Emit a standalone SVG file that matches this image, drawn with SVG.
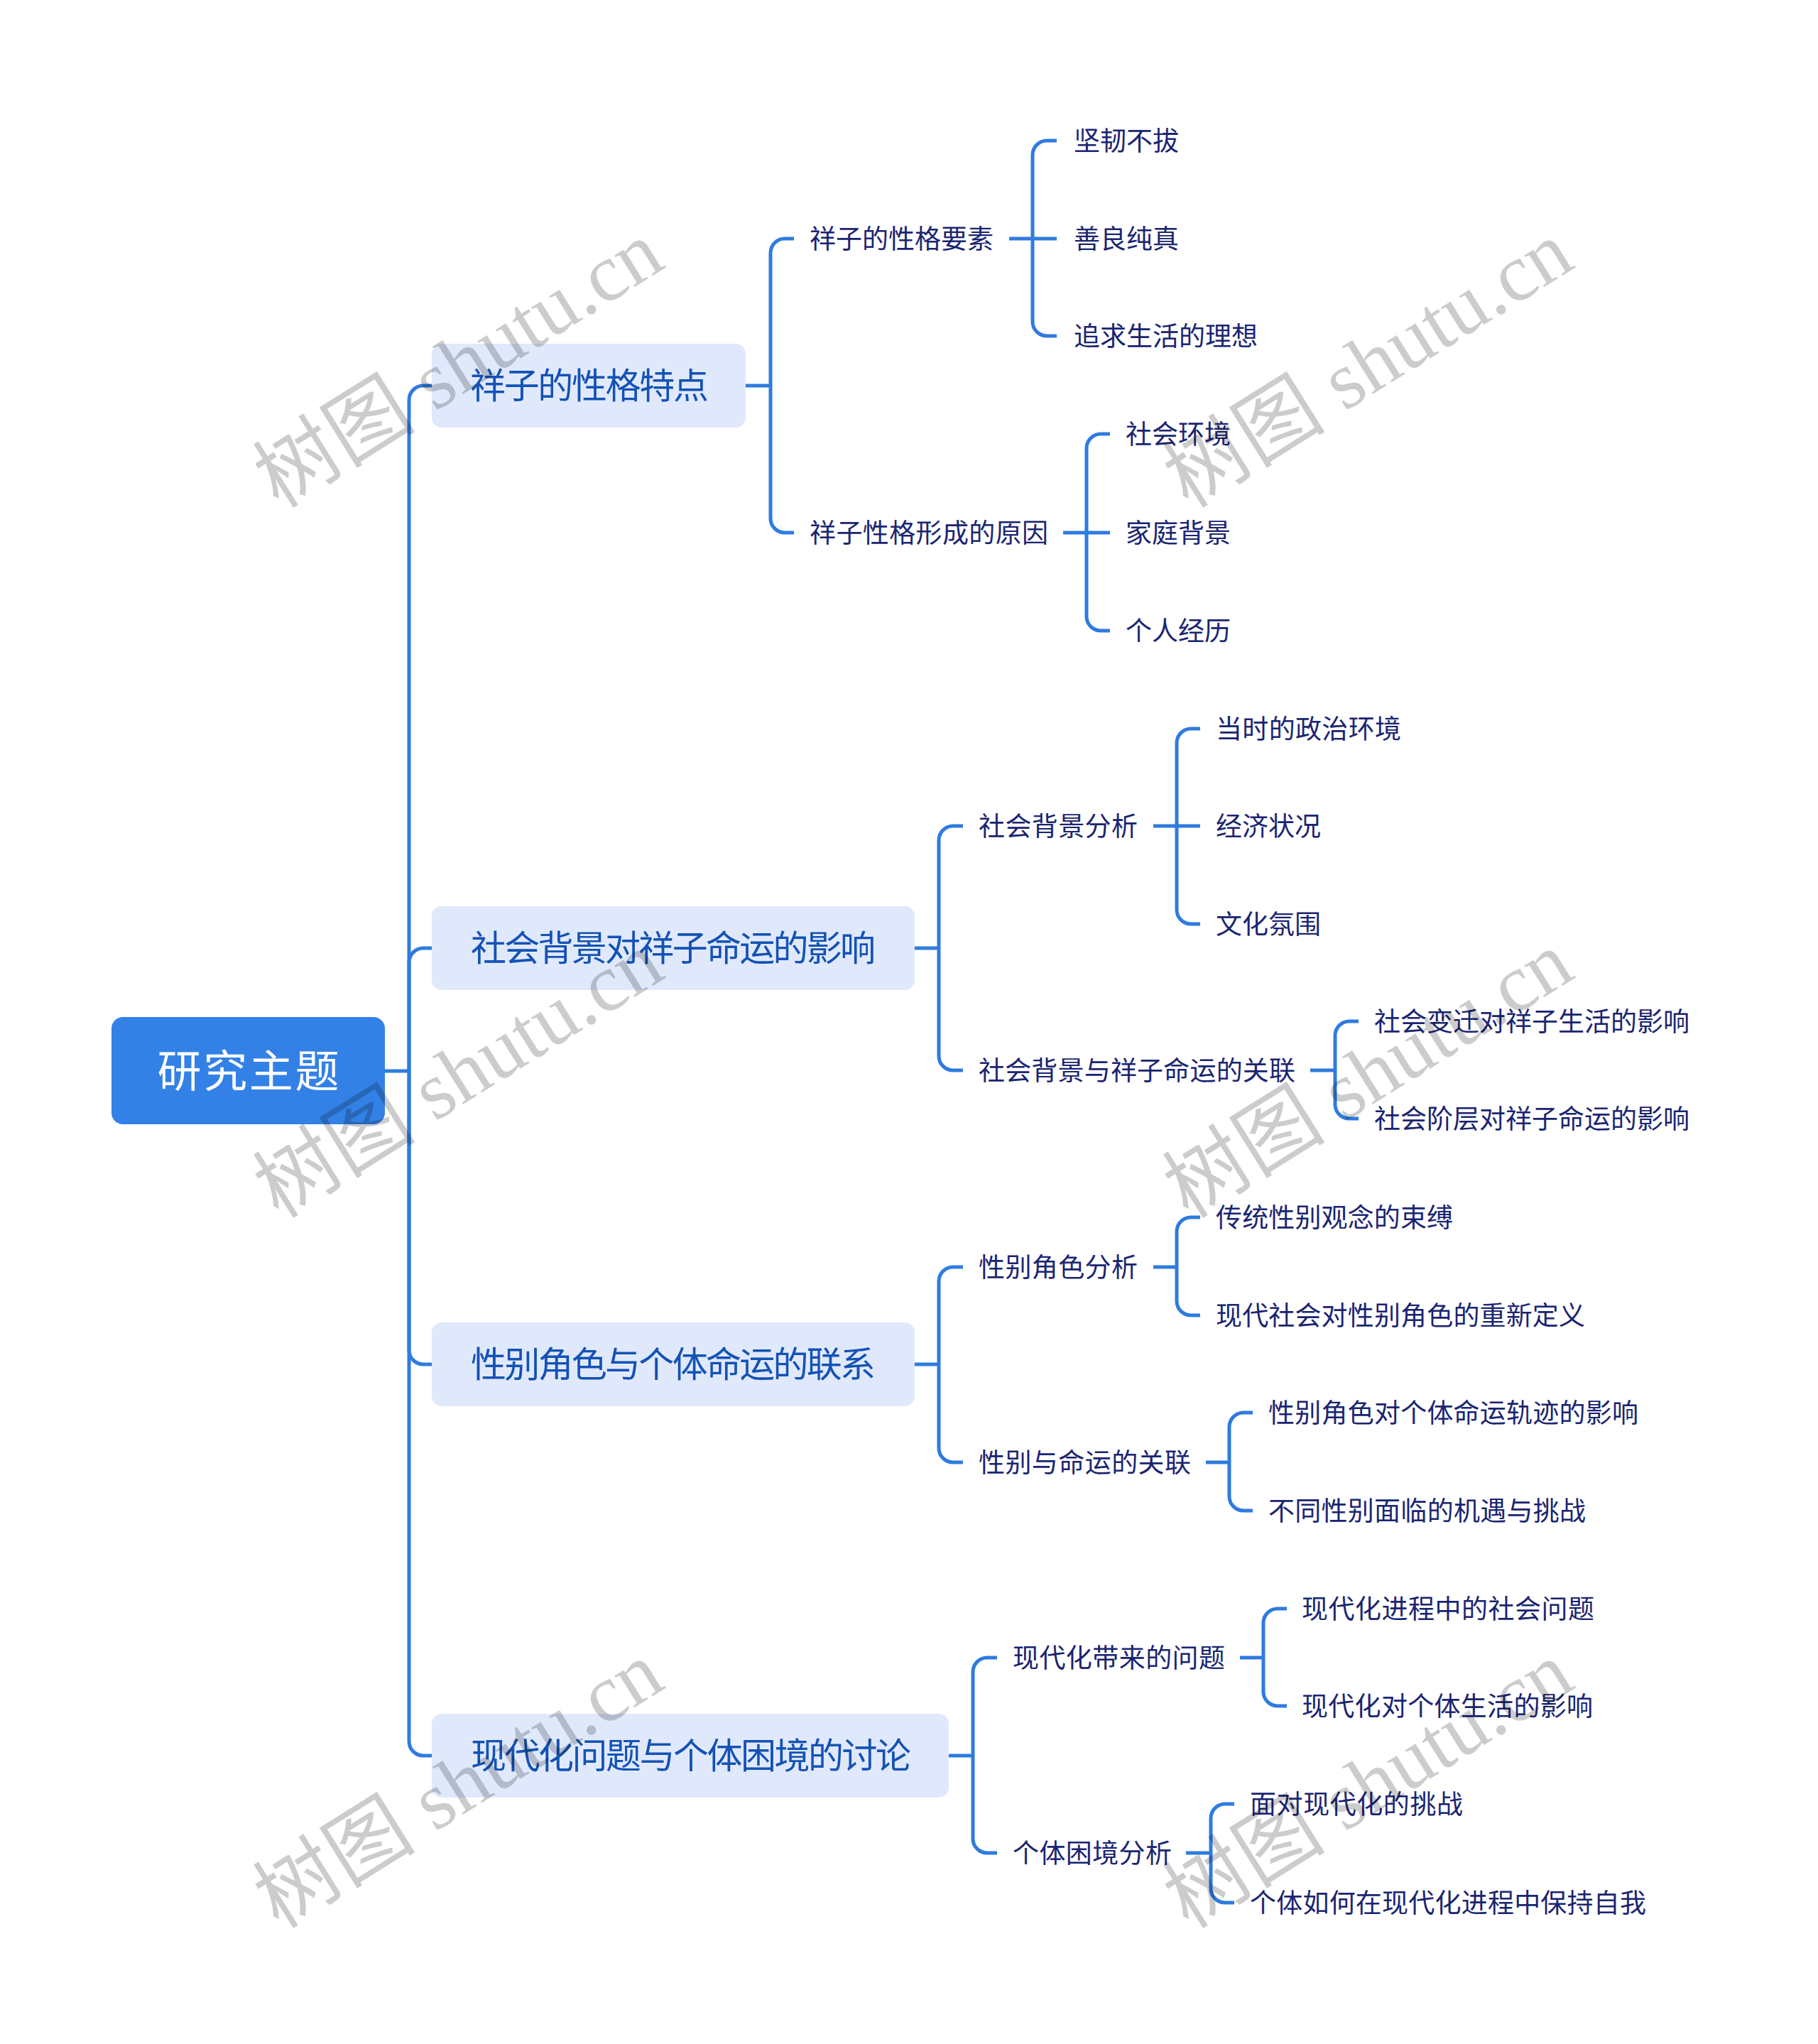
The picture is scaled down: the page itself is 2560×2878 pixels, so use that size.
<svg xmlns="http://www.w3.org/2000/svg" width="2560" height="2878" viewBox="0 0 2560 2878">
<style>
text{font-family:"Noto Sans CJK SC","Noto Sans",sans-serif}
.root rect{fill:#3381E6}
.root text{fill:#ffffff;font-size:62px}
.l1 rect{fill:#E0E9FC}
.l1 text{fill:#1452B5;font-size:50px}
.l2 text,.l3 text{fill:#1A2571;font-size:37px}
.conn path{fill:none;stroke:#2F7BDF;stroke-width:5}
.wm{font-family:"Liberation Serif","Noto Sans CJK SC",serif;font-size:115px;fill:#000;fill-opacity:0.2}
</style>
<rect width="2560" height="2878" fill="#ffffff"/>
<g class="conn" id="connectors">
<path d="M542 1508 H576"/>
<path d="M576 1508 V563 A20 20 0 0 1 596 543 H608"/>
<path d="M576 1508 V1355 A20 20 0 0 1 596 1335 H608"/>
<path d="M576 1508 V1901 A20 20 0 0 0 596 1921 H608"/>
<path d="M576 1508 V2452 A20 20 0 0 0 596 2472 H608"/>
<path d="M1050 543 H1085"/>
<path d="M1085 543 V356 A20 20 0 0 1 1105 336 H1118"/>
<path d="M1085 543 V730 A20 20 0 0 0 1105 750 H1118"/>
<path d="M1421 336 H1454"/>
<path d="M1454 336 V218 A20 20 0 0 1 1474 198 H1488"/>
<path d="M1454 336 H1488"/>
<path d="M1454 336 V453 A20 20 0 0 0 1474 473 H1488"/>
<path d="M1497 750 H1530"/>
<path d="M1530 750 V631 A20 20 0 0 1 1550 611 H1563"/>
<path d="M1530 750 H1563"/>
<path d="M1530 750 V868 A20 20 0 0 0 1550 888 H1563"/>
<path d="M1288 1335 H1322"/>
<path d="M1322 1335 V1183 A20 20 0 0 1 1342 1163 H1356"/>
<path d="M1322 1335 V1487 A20 20 0 0 0 1342 1507 H1356"/>
<path d="M1624 1163 H1657"/>
<path d="M1657 1163 V1046 A20 20 0 0 1 1677 1026 H1690"/>
<path d="M1657 1163 H1690"/>
<path d="M1657 1163 V1281 A20 20 0 0 0 1677 1301 H1690"/>
<path d="M1845 1507 H1880"/>
<path d="M1880 1507 V1458 A20 20 0 0 1 1900 1438 H1913"/>
<path d="M1880 1507 V1555 A20 20 0 0 0 1900 1575 H1913"/>
<path d="M1288 1921 H1322"/>
<path d="M1322 1921 V1804 A20 20 0 0 1 1342 1784 H1356"/>
<path d="M1322 1921 V2039 A20 20 0 0 0 1342 2059 H1356"/>
<path d="M1624 1784 H1657"/>
<path d="M1657 1784 V1734 A20 20 0 0 1 1677 1714 H1690"/>
<path d="M1657 1784 V1832 A20 20 0 0 0 1677 1852 H1690"/>
<path d="M1698 2059 H1731"/>
<path d="M1731 2059 V2009 A20 20 0 0 1 1751 1989 H1764"/>
<path d="M1731 2059 V2107 A20 20 0 0 0 1751 2127 H1764"/>
<path d="M1336 2472 H1370"/>
<path d="M1370 2472 V2354 A20 20 0 0 1 1390 2334 H1404"/>
<path d="M1370 2472 V2589 A20 20 0 0 0 1390 2609 H1404"/>
<path d="M1746 2334 H1779"/>
<path d="M1779 2334 V2285 A20 20 0 0 1 1799 2265 H1812"/>
<path d="M1779 2334 V2382 A20 20 0 0 0 1799 2402 H1812"/>
<path d="M1670 2609 H1705"/>
<path d="M1705 2609 V2560 A20 20 0 0 1 1725 2540 H1738"/>
<path d="M1705 2609 V2659 A20 20 0 0 0 1725 2679 H1738"/>
</g>
<g class="root" id="node-root"><rect x="157" y="1432" width="385" height="151" rx="16"/><text x="349.5" y="1531" text-anchor="middle" textLength="256">研究主题</text></g>
<g class="l1" id="node-1"><rect x="608" y="484" width="442" height="118" rx="14"/><text x="662" y="561" textLength="336">祥子的性格特点</text></g>
<g class="l1" id="node-2"><rect x="608" y="1276" width="680" height="118" rx="14"/><text x="663" y="1353" textLength="570">社会背景对祥子命运的影响</text></g>
<g class="l1" id="node-3"><rect x="608" y="1862" width="680" height="118" rx="14"/><text x="663" y="1939" textLength="570">性别角色与个体命运的联系</text></g>
<g class="l1" id="node-4"><rect x="608" y="2413" width="728" height="118" rx="14"/><text x="663" y="2490" textLength="620">现代化问题与个体困境的讨论</text></g>
<g class="l2" id="node-1-1"><text x="1140" y="350" textLength="259">祥子的性格要素</text></g>
<g class="l2" id="node-1-2"><text x="1140" y="764" textLength="336">祥子性格形成的原因</text></g>
<g class="l2" id="node-2-1"><text x="1378" y="1177" textLength="224">社会背景分析</text></g>
<g class="l2" id="node-2-2"><text x="1378" y="1521" textLength="446">社会背景与祥子命运的关联</text></g>
<g class="l2" id="node-3-1"><text x="1378" y="1798" textLength="224">性别角色分析</text></g>
<g class="l2" id="node-3-2"><text x="1378" y="2073" textLength="299">性别与命运的关联</text></g>
<g class="l2" id="node-4-1"><text x="1426" y="2348" textLength="299">现代化带来的问题</text></g>
<g class="l2" id="node-4-2"><text x="1426" y="2623" textLength="224">个体困境分析</text></g>
<g class="l3" id="node-1-1-1"><text x="1512" y="212" textLength="148">坚韧不拔</text></g>
<g class="l3" id="node-1-1-2"><text x="1512" y="350" textLength="148">善良纯真</text></g>
<g class="l3" id="node-1-1-3"><text x="1512" y="487" textLength="259">追求生活的理想</text></g>
<g class="l3" id="node-1-2-1"><text x="1585" y="625" textLength="148">社会环境</text></g>
<g class="l3" id="node-1-2-2"><text x="1585" y="764" textLength="148">家庭背景</text></g>
<g class="l3" id="node-1-2-3"><text x="1585" y="902" textLength="148">个人经历</text></g>
<g class="l3" id="node-2-1-1"><text x="1712" y="1040" textLength="261">当时的政治环境</text></g>
<g class="l3" id="node-2-1-2"><text x="1712" y="1177" textLength="148">经济状况</text></g>
<g class="l3" id="node-2-1-3"><text x="1712" y="1315" textLength="148">文化氛围</text></g>
<g class="l3" id="node-2-2-1"><text x="1935" y="1452" textLength="444">社会变迁对祥子生活的影响</text></g>
<g class="l3" id="node-2-2-2"><text x="1935" y="1589" textLength="444">社会阶层对祥子命运的影响</text></g>
<g class="l3" id="node-3-1-1"><text x="1712" y="1728" textLength="334">传统性别观念的束缚</text></g>
<g class="l3" id="node-3-1-2"><text x="1712" y="1866" textLength="520">现代社会对性别角色的重新定义</text></g>
<g class="l3" id="node-3-2-1"><text x="1786" y="2003" textLength="521">性别角色对个体命运轨迹的影响</text></g>
<g class="l3" id="node-3-2-2"><text x="1786" y="2141" textLength="447">不同性别面临的机遇与挑战</text></g>
<g class="l3" id="node-4-1-1"><text x="1833" y="2279" textLength="412">现代化进程中的社会问题</text></g>
<g class="l3" id="node-4-1-2"><text x="1833" y="2416" textLength="410">现代化对个体生活的影响</text></g>
<g class="l3" id="node-4-2-1"><text x="1760" y="2554" textLength="300">面对现代化的挑战</text></g>
<g class="l3" id="node-4-2-2"><text x="1760" y="2693" textLength="558">个体如何在现代化进程中保持自我</text></g>
<g id="watermarks">
<text class="wm" text-anchor="middle" transform="translate(646 514) rotate(-32)" y="38">树图 shutu.cn</text>
<text class="wm" text-anchor="middle" transform="translate(1927 514) rotate(-32)" y="38">树图 shutu.cn</text>
<text class="wm" text-anchor="middle" transform="translate(646 1514) rotate(-32)" y="38">树图 shutu.cn</text>
<text class="wm" text-anchor="middle" transform="translate(1927 1514) rotate(-32)" y="38">树图 shutu.cn</text>
<text class="wm" text-anchor="middle" transform="translate(646 2514) rotate(-32)" y="38">树图 shutu.cn</text>
<text class="wm" text-anchor="middle" transform="translate(1927 2514) rotate(-32)" y="38">树图 shutu.cn</text>
</g>
</svg>
